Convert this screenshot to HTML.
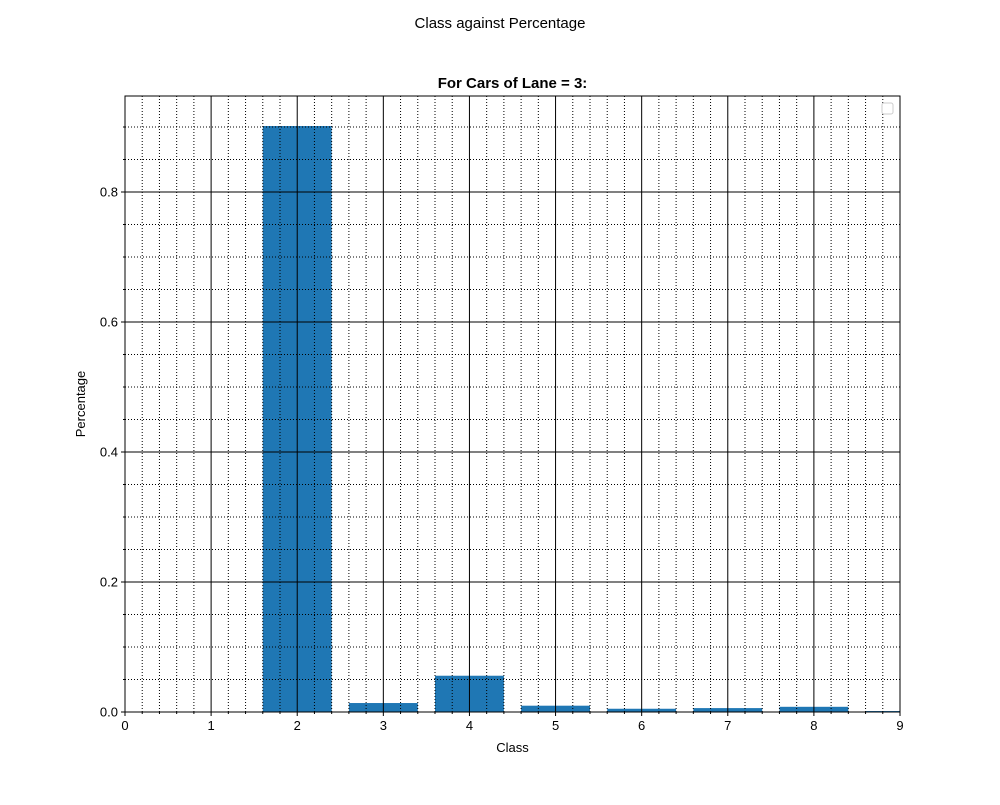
<!DOCTYPE html>
<html><head><meta charset="utf-8"><style>
body{margin:0;background:#fff;}
svg text{font-family:"Liberation Sans","DejaVu Sans",sans-serif;}
</style></head><body>
<svg id="chart" width="1000" height="800">
<defs><clipPath id="plotclip"><rect x="125" y="96" width="775" height="616"/></clipPath></defs>
<text x="500" y="28" text-anchor="middle" font-size="15">Class against Percentage</text>
<text x="512.5" y="88" text-anchor="middle" font-size="15" font-weight="bold">For Cars of Lane = 3:</text>
<text x="512.5" y="752" text-anchor="middle" font-size="13">Class</text>
<text transform="translate(85,404) rotate(-90)" text-anchor="middle" font-size="13">Percentage</text>
<g id="bars" clip-path="url(#plotclip)"></g><g id="grid"></g><g id="ticks"></g>
<rect x="125" y="96" width="775" height="616" fill="none" stroke="#000" stroke-width="1"/>
<rect x="882" y="103" width="11" height="11" rx="2" fill="#fff" stroke="#ccc"/>
</svg>
<script>
const categories=[2,3,4,5,6,7,8,9];
const values=[0.9015,0.0138,0.0558,0.0097,0.005,0.006,0.008,0.0015];
const xTicks=[0,1,2,3,4,5,6,7,8,9];
const yTicks=[0.0,0.2,0.4,0.6,0.8];
const NS="http://www.w3.org/2000/svg";
const X0=125,X1=900,Y0=712,Y1=96,xMax=9,yMax=(712-96)/650;
const xs=v=>X0+v/xMax*(X1-X0);
const ys=v=>Y0-v/yMax*(Y0-Y1);
function mk(t,a,p){const e=document.createElementNS(NS,t);for(const k in a)e.setAttribute(k,a[k]);p.appendChild(e);return e;}
const bars=document.getElementById('bars'),grid=document.getElementById('grid'),ticks=document.getElementById('ticks');
categories.forEach((c,i)=>{
 const r=mk('rect',{x:xs(c-0.4),y:ys(values[i]),width:xs(0.8)-xs(0),height:Y0-ys(values[i]),fill:'#1f77b4'},bars);
 
 
});
for(let k=1;k<45;k++){const v=k*0.2;if(k%5===0)continue;const x=xs(v);
 const l=mk('line',{x1:x,x2:x,y1:Y1,y2:Y0,stroke:'#000','stroke-width':1,'stroke-dasharray':'1,2'},grid);
 
 mk('line',{x1:x,x2:x,y1:Y0,y2:Y0+2,stroke:'#000'},ticks);}
for(let k=1;k*0.05<yMax;k++){if(k%4===0)continue;const y=ys(k*0.05);
 const l=mk('line',{x1:X0,x2:X1,y1:y,y2:y,stroke:'#000','stroke-width':1,'stroke-dasharray':'1,2'},grid);
 
 mk('line',{x1:X0-2,x2:X0,y1:y,y2:y,stroke:'#000'},ticks);}
xTicks.forEach(v=>{const x=xs(v);
 const l=mk('line',{x1:x,x2:x,y1:Y1,y2:Y0,stroke:'#000','stroke-width':1},grid);
 
 mk('line',{x1:x,x2:x,y1:Y0,y2:Y0+4,stroke:'#000'},ticks);
 const t=mk('text',{x:x,y:Y0+18,'text-anchor':'middle','font-size':13},ticks);t.textContent=v;
 });
yTicks.forEach(v=>{const y=ys(v);
 const l=mk('line',{x1:X0,x2:X1,y1:y,y2:y,stroke:'#000','stroke-width':1},grid);
 
 mk('line',{x1:X0-4,x2:X0,y1:y,y2:y,stroke:'#000'},ticks);
 const t=mk('text',{x:X0-7,y:y+4.5,'text-anchor':'end','font-size':13},ticks);t.textContent=v.toFixed(1);
 });
</script>
</body></html>
